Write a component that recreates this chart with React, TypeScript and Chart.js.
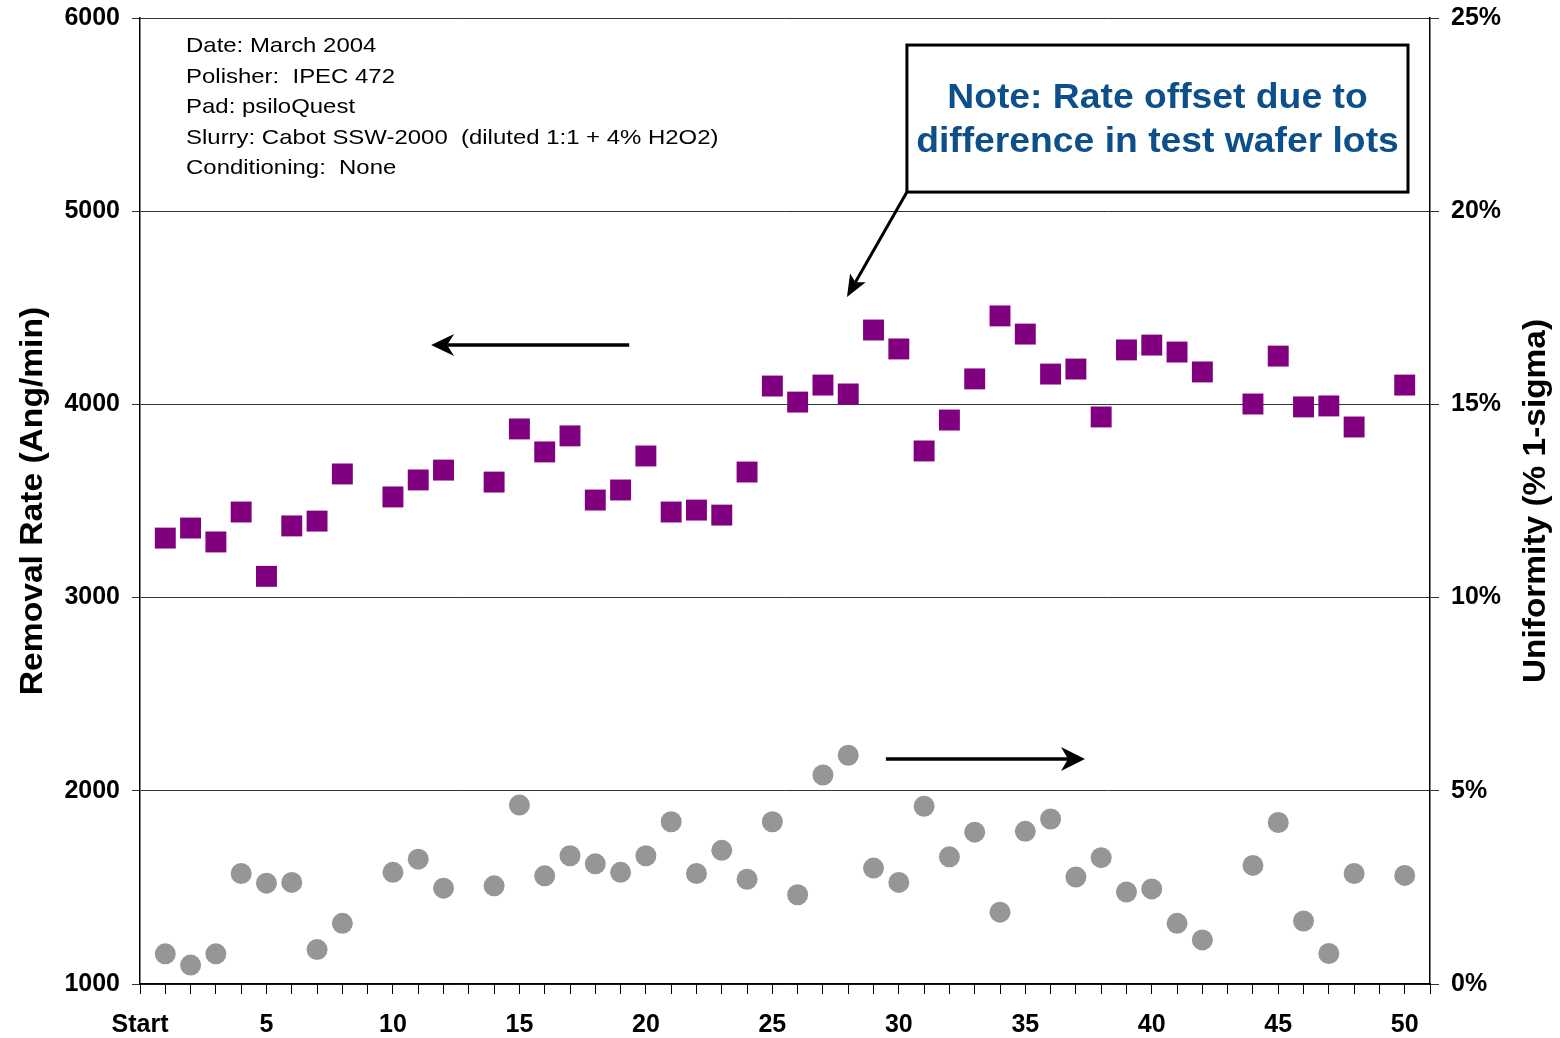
import React, { useEffect, useRef } from 'react';
import { Chart, registerables } from 'chart.js';

Chart.register(...registerables);

// ---------- data ----------
const runs: number[] = [
  1, 2, 3, 4, 5, 6, 7, 8, 9, 10,
  11, 12, 13, 14, 15, 16, 17, 18, 19, 20,
  21, 22, 23, 24, 25, 26, 27, 28, 29, 30,
  31, 32, 33, 34, 35, 36, 37, 38, 39, 40,
  41, 42, 43, 44, 45, 46, 47, 48, 49, 50,
];

// Removal rate (Ang/min), left axis
const removalRate: (number | null)[] = [
  3308, 3360, 3288, 3443, 3110, 3371, 3396, 3640, null, 3521,
  3609, 3660, null, 3598, 3873, 3754, 3837, 3505, 3557, 3733,
  3443, 3453, 3427, 3650, 4095, 4012, 4100, 4054, 4385, 4287,
  3759, 3919, 4132, 4458, 4364, 4157, 4183, 3935, 4282, 4307,
  4271, 4168, null, 4002, 4250, 3987, 3992, 3883, null, 4100,
];

// Uniformity (% 1-sigma), right axis
const uniformity: (number | null)[] = [
  0.78, 0.49, 0.78, 2.86, 2.61, 2.63, 0.89, 1.57, null, 2.89,
  3.23, 2.48, null, 2.54, 4.63, 2.80, 3.32, 3.11, 2.89, 3.32,
  4.20, 2.86, 3.46, 2.71, 4.20, 2.31, 5.41, 5.92, 3.00, 2.63,
  4.60, 3.29, 3.93, 1.86, 3.95, 4.27, 2.77, 3.27, 2.38, 2.46,
  1.57, 1.14, null, 3.07, 4.18, 1.63, 0.79, 2.86, null, 2.81,
];

const xTickLabels: Record<number, string> = {
  0: 'Start', 5: '5', 10: '10', 15: '15', 20: '20', 25: '25',
  30: '30', 35: '35', 40: '40', 45: '45', 50: '50',
};
const rateRange = [1000, 6000];
const uniformityRange = [0, 25];

const infoLines: string[] = [
  'Date: March 2004',
  'Polisher:  IPEC 472',
  'Pad: psiloQuest',
  'Slurry: Cabot SSW-2000  (diluted 1:1 + 4% H2O2)',
  'Conditioning:  None',
];
const noteLines: string[] = ['Note: Rate offset due to', 'difference in test wafer lots'];
const leftTitle = 'Removal Rate (Ang/min)';
const rightTitle = 'Uniformity (% 1-sigma)';

const FONT = '"Liberation Sans", Arial, Helvetica, sans-serif';

function drawArrow(
  ctx: CanvasRenderingContext2D,
  x0: number, y0: number, x1: number, y1: number,
  headLen: number, headHalf: number, notch: number, lw: number
) {
  const dx = x1 - x0, dy = y1 - y0;
  const len = Math.hypot(dx, dy);
  const ux = dx / len, uy = dy / len;
  const px = -uy, py = ux;
  ctx.save();
  ctx.strokeStyle = '#000';
  ctx.fillStyle = '#000';
  ctx.lineWidth = lw;
  ctx.beginPath();
  ctx.moveTo(x0, y0);
  ctx.lineTo(x1 - ux * (headLen - notch), y1 - uy * (headLen - notch));
  ctx.stroke();
  const bx = x1 - ux * headLen, by = y1 - uy * headLen;
  ctx.beginPath();
  ctx.moveTo(x1, y1);
  ctx.lineTo(bx + px * headHalf, by + py * headHalf);
  ctx.lineTo(x1 - ux * (headLen - notch), y1 - uy * (headLen - notch));
  ctx.lineTo(bx - px * headHalf, by - py * headHalf);
  ctx.closePath();
  ctx.fill();
  ctx.restore();
}

const overlayPlugin = {
  id: 'overlay',
  afterDraw(chart: any) {
    const ctx: CanvasRenderingContext2D = chart.ctx;
    const xs = chart.scales.x;
    const ys = chart.scales.y;
    const X = (v: number) => xs.getPixelForValue(v);
    const Y = (v: number) => ys.getPixelForValue(v);

    // info text block
    ctx.save();
    ctx.fillStyle = '#000';
    ctx.font = `21px ${FONT}`;
    ctx.textAlign = 'left';
    ctx.textBaseline = 'middle';
    const infoY = [5855, 5694, 5539, 5379, 5224];
    infoLines.forEach((t, i) => {
      ctx.save();
      ctx.translate(X(1.82), Y(infoY[i]));
      ctx.scale(1.14, 1);
      ctx.fillText(t, 0, 0);
      ctx.restore();
    });
    ctx.restore();

    // note box
    const bx0 = X(30.32), bx1 = X(50.13), by0 = Y(5860), by1 = Y(5099);
    ctx.save();
    ctx.fillStyle = '#fff';
    ctx.fillRect(bx0, by0, bx1 - bx0, by1 - by0);
    ctx.strokeStyle = '#000';
    ctx.lineWidth = 3;
    ctx.strokeRect(bx0, by0, bx1 - bx0, by1 - by0);
    ctx.fillStyle = '#0d4f8b';
    ctx.font = `bold 35px ${FONT}`;
    ctx.textAlign = 'center';
    ctx.textBaseline = 'middle';
    const noteY = [5586, 5358];
    noteLines.forEach((t, i) => {
      ctx.save();
      ctx.translate((bx0 + bx1) / 2, Y(noteY[i]));
      ctx.scale(1.065, 1);
      ctx.fillText(t, 0, 0);
      ctx.restore();
    });
    ctx.restore();

    // arrows
    drawArrow(ctx, bx0, by1, X(27.95), Y(4556), 22, 9, 5, 3);
    drawArrow(ctx, X(19.34), Y(4307), X(11.51), Y(4307), 23, 11, 7, 3.5);
    drawArrow(ctx, X(29.49), Y(2165), X(37.36), Y(2165), 24, 12, 7, 3.5);

    // axis titles
    const ca = chart.chartArea;
    const midY = (ca.top + ca.bottom) / 2;
    ctx.save();
    ctx.fillStyle = '#000';
    ctx.font = `bold 32px ${FONT}`;
    ctx.textAlign = 'center';
    ctx.textBaseline = 'alphabetic';
    ctx.save();
    ctx.translate(ca.left - 98, midY);
    ctx.rotate(-Math.PI / 2);
    ctx.scale(1.05, 1);
    ctx.fillText(leftTitle, 0, 0);
    ctx.restore();
    ctx.save();
    ctx.translate(ca.right + 115, midY);
    ctx.rotate(-Math.PI / 2);
    ctx.scale(1.045, 1);
    ctx.fillText(rightTitle, 0, 0);
    ctx.restore();
    ctx.restore();
  },
};

export default function App() {
  const ref = useRef<HTMLCanvasElement | null>(null);

  useEffect(() => {
    if (!ref.current) return;
    const ratePts = runs
      .map((r, i) => ({ x: r, y: removalRate[i] }))
      .filter((p) => p.y !== null);
    const uniPts = runs
      .map((r, i) => ({ x: r, y: uniformity[i] }))
      .filter((p) => p.y !== null);

    const tickFont = { family: FONT, size: 25, weight: 'bold' as const };
    const zeroPad = (s: any) => {
      s.paddingTop = 0;
      s.paddingBottom = 0;
      s.paddingLeft = 0;
      s.paddingRight = 0;
    };

    const chart = new Chart(ref.current, {
      type: 'scatter',
      data: {
        datasets: [
          {
            label: 'Removal Rate',
            data: ratePts as any,
            yAxisID: 'y',
            pointStyle: 'rect',
            pointRadius: 14.8,
            pointHoverRadius: 14.8,
            backgroundColor: '#800080',
            borderWidth: 0,
          },
          {
            label: 'Uniformity',
            data: uniPts as any,
            yAxisID: 'y1',
            pointStyle: 'circle',
            pointRadius: 10.5,
            pointHoverRadius: 10.5,
            backgroundColor: '#969696',
            borderWidth: 0,
          },
        ],
      },
      options: {
        animation: false,
        responsive: true,
        maintainAspectRatio: false,
        layout: { padding: { top: 18, left: 0, right: 0, bottom: 0 } },
        plugins: {
          legend: { display: false },
          tooltip: { enabled: false },
        },
        scales: {
          x: {
            type: 'linear',
            min: 0,
            max: 51,
            afterFit: (s: any) => { s.height = 54; zeroPad(s); },
            ticks: {
              stepSize: 1,
              autoSkip: false,
              maxRotation: 0,
              padding: 16,
              color: '#000',
              font: tickFont,
              callback: (v: any) => xTickLabels[Number(v)] ?? '',
            },
            grid: {
              drawOnChartArea: false,
              drawTicks: true,
              tickLength: 10,
              color: '#000',
              lineWidth: 1,
            },
            border: { display: true, color: '#000', width: 1.5 },
          },
          y: {
            type: 'linear',
            position: 'left',
            min: rateRange[0],
            max: rateRange[1],
            afterFit: (s: any) => { s.width = 140; zeroPad(s); },
            ticks: {
              stepSize: 1000,
              padding: 12,
              color: '#000',
              font: tickFont,
              callback: (v: any) => String(v),
            },
            grid: {
              color: '#333',
              lineWidth: 1,
              drawTicks: true,
              tickLength: 8,
            },
            border: { display: true, color: '#000', width: 1.5 },
          },
          y1: {
            type: 'linear',
            position: 'right',
            min: uniformityRange[0],
            max: uniformityRange[1],
            afterFit: (s: any) => { s.width = 130; zeroPad(s); },
            ticks: {
              stepSize: 5,
              padding: 12,
              color: '#000',
              font: tickFont,
              callback: (v: any) => `${v}%`,
            },
            grid: {
              drawOnChartArea: false,
              drawTicks: true,
              tickLength: 9,
              color: '#333',
            },
            border: { display: true, color: '#000', width: 1.5 },
          },
        },
      } as any,
      plugins: [overlayPlugin],
    });
    return () => chart.destroy();
  }, []);

  return (
    <div style={{ position: 'fixed', left: 0, top: 0, width: 1560, height: 1038, background: '#fff' }}>
      <canvas ref={ref} />
    </div>
  );
}
